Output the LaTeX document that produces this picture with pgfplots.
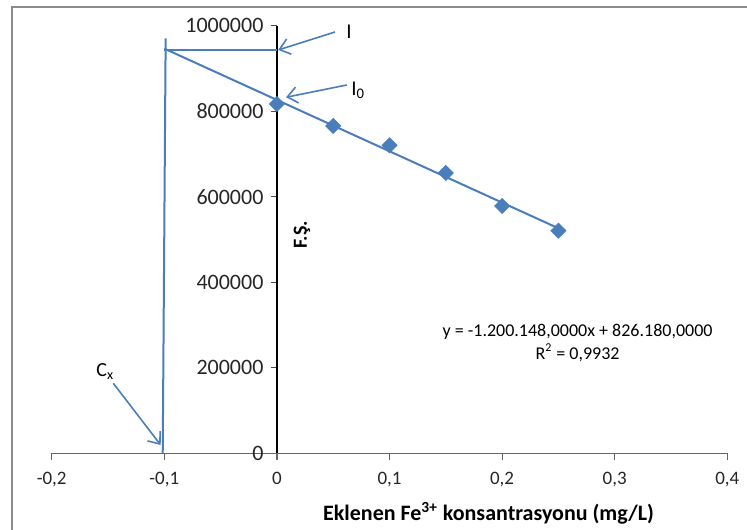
\documentclass[border=0pt]{standalone}
\usepackage{fontspec}
\setmainfont{Carlito}
\usepackage{pgfplots}
\pgfplotsset{compat=1.18}
\usetikzlibrary{arrows.meta}
\definecolor{xlblue}{HTML}{4A7EBB}
\definecolor{framegray}{HTML}{8C8C8C}
\begin{document}
\begin{tikzpicture}
\useasboundingbox (0,0) rectangle (373.5pt,264.5pt);
\draw[framegray, line width=1pt] (6pt,-5pt) -- (6pt,261.2pt) -- (380pt,261.2pt);
\begin{axis}[
  scale only axis, width=337.8pt, height=213.85pt,
  at={(25.85pt,37.85pt)}, anchor=south west,
  xmin=-0.2, xmax=0.4, ymin=0, ymax=1000000,
  axis x line=middle, axis y line=middle,
  axis line style={-},
  x axis line style={draw=black!60, line width=0.6pt},
  y axis line style={draw=black, line width=0.6pt},
  hide obscured x ticks=false, hide obscured y ticks=false,
  xtick={-0.2,-0.1,0,0.1,0.2,0.3,0.4},
  xticklabels={{-0,2},{-0,1},0,{0,1},{0,2},{0,3},{0,4}},
  ytick={0,200000,400000,600000,800000,1000000},
  yticklabels={0,200000,400000,600000,800000,1000000},
  scaled y ticks=false,
  tick align=outside, major tick length=3.2pt,
  x tick style={black!60, line width=0.6pt},
  y tick style={black!70, line width=0.6pt},
  xticklabel style={font=\fontsize{9.5}{11}\selectfont, text=black!85, yshift=-2.5pt},
  yticklabel style={font=\fontsize{11}{12}\selectfont, text=black!85, xshift=0pt},
  clip=false,
]
\addplot[color=xlblue, line width=1pt] coordinates {(-0.1,946195) (0.25,526143)};
\addplot[color=xlblue, line width=1pt] coordinates {(-0.1,944000) (0,944000)};
\addplot[color=xlblue, line width=1pt] coordinates {(-0.0988,970300) (-0.1014,0)};
\addplot[only marks, mark=square*, mark size=2.65pt, mark options={rotate=45, fill=xlblue, draw=xlblue}]
  coordinates {(0,816700) (0.05,765300) (0.1,720100) (0.15,655400) (0.2,578200) (0.25,520500)};
\draw[xlblue, line width=0.8pt, -{Straight Barb[length=5pt,width=8pt]}] (axis cs:0.0516,985000) -- (axis cs:0.0012,943000);
\draw[xlblue, line width=0.8pt, -{Straight Barb[length=5pt,width=8pt]}] (axis cs:0.0620,861100) -- (axis cs:0.0081,832400);
\draw[xlblue, line width=0.8pt, -{Straight Barb[length=5pt,width=8pt]}] (axis cs:-0.1453,163700) -- (axis cs:-0.1032,19400);
\node[font=\fontsize{10.5}{12}\selectfont, anchor=base west, inner sep=0pt] at (axis cs:0.0614,968700) {I};
\node[font=\fontsize{10.5}{12}\selectfont, anchor=base west, inner sep=0pt] at (axis cs:0.0658,837700) {I\textsubscript{0}};
\node[font=\fontsize{10}{12}\selectfont, anchor=base west, inner sep=0pt] at (axis cs:-0.1607,180700) {C\textsubscript{x}};
\node[font=\fontsize{9}{10}\selectfont] at (axis cs:0.267,284000) {y = -1.200.148,0000x + 826.180,0000};
\node[font=\fontsize{9}{10}\selectfont] at (axis cs:0.267,235000) {R\textsuperscript{2} = 0,9932};
\node[font=\bfseries\fontsize{10}{11}\selectfont, rotate=90] at (axis cs:0.0223,510400) {F.Ş.};
\node[font=\bfseries\fontsize{11}{12}\selectfont] at (axis cs:0.188,-140000) {Eklenen Fe\textsuperscript{3+} konsantrasyonu (mg/L)};
\end{axis}
\end{tikzpicture}
\end{document}
